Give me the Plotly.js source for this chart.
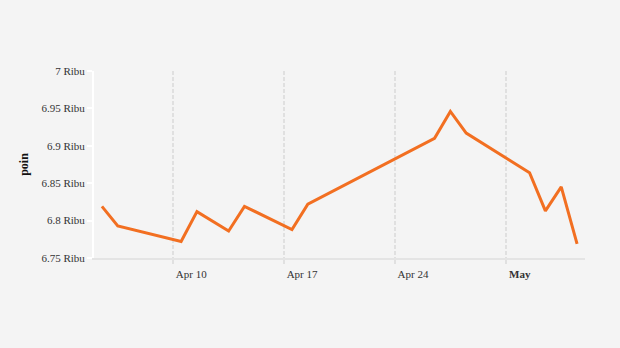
<!DOCTYPE html>
<html>
<head>
<meta charset="utf-8">
<script src="https://cdn.plot.ly/plotly-3.0.1.min.js"></script>
<style>html,body{margin:0;padding:0;background:#f4f4f4;}#chart{width:620px;height:348px;}</style>
</head>
<body>
<div id="chart"></div>
<script>
const dates = ['2023-04-05','2023-04-06','2023-04-10','2023-04-11','2023-04-13','2023-04-14','2023-04-17','2023-04-18','2023-04-26','2023-04-27','2023-04-28','2023-05-02','2023-05-03','2023-05-04','2023-05-05'];
const values = [6819, 6793, 6772, 6812, 6786, 6819, 6788, 6822, 6910, 6946, 6917, 6864, 6813, 6845, 6769];
const yTickVals = [6750, 6800, 6850, 6900, 6950, 7000];
const yTickText = ['6.75 Ribu','6.8 Ribu','6.85 Ribu','6.9 Ribu','6.95 Ribu','7 Ribu'];
const xTickVals = ['2023-04-09 12:00','2023-04-16 12:00','2023-04-23 12:00','2023-04-30 12:00'];
const xTickText = ['Apr 10','Apr 17','Apr 24','<b>May</b>\u00a0\u00a0\u00a0'];

const trace = {
  x: dates, y: values, type: 'scatter', mode: 'lines',
  line: {color: '#f26f21', width: 3}, hoverinfo: 'x+y'
};
const layout = {
  width: 620, height: 348,
  paper_bgcolor: '#f4f4f4', plot_bgcolor: '#f4f4f4',
  margin: {l: 94, r: 35, t: 71, b: 90},
  font: {family: 'Liberation Serif, Times New Roman, serif', size: 11, color: '#333'},
  showlegend: false,
  xaxis: {
    type: 'date',
    range: ['2023-04-04 12:00', '2023-05-05 12:00'],
    tickmode: 'array', tickvals: xTickVals, ticktext: xTickText,
    showgrid: true, gridcolor: '#e0e0e0', gridwidth: 2, griddash: '4px,2px',
    showline: true, linecolor: '#e4e4e4', linewidth: 2,
    ticks: 'outside', ticklen: 4, tickwidth: 2, tickcolor: '#e0e0e0',
    ticklabelshift: 18, ticklabelstandoff: 1,
    zeroline: false, fixedrange: true
  },
  yaxis: {
    range: [6750, 7000],
    tickmode: 'array', tickvals: yTickVals, ticktext: yTickText,
    showgrid: false, zeroline: false,
    showline: true, linecolor: '#ffffff', linewidth: 2,
    ticks: 'outside', ticklen: 5, tickcolor: '#ffffff', tickwidth: 2,
    title: {text: '<b>poin</b>', font: {size: 12, color: '#111'}, standoff: 10},
    fixedrange: true
  }
};
Plotly.newPlot('chart', [trace], layout, {displayModeBar: false, staticPlot: true});
</script>
</body>
</html>
